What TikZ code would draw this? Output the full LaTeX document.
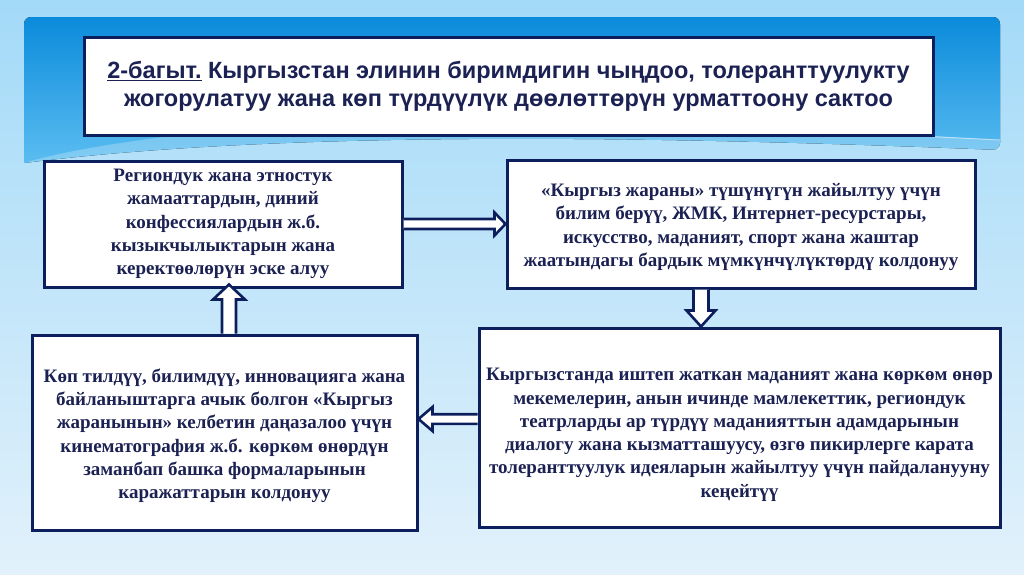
\documentclass[tikz,border=0pt]{standalone}
\usepackage{fontspec}
\setmainfont{Liberation Serif}
\newfontfamily\titlefont{Liberation Sans}
\usetikzlibrary{calc}
\definecolor{navy}{HTML}{0C1F5C}
\definecolor{txt}{HTML}{1B2152}
\definecolor{bgtop}{HTML}{A3DAF8}
\definecolor{bgbot}{HTML}{E2F1FB}
\definecolor{paneltop}{HTML}{0B8BDB}
\definecolor{panelbot}{HTML}{5BBDF1}
\newcommand\blockarrow[5]{%
  \draw[arrowsty] let \p1=($(#2)-(#1)$), \n1={veclen(\x1,\y1)}, \n2={atan2(\y1,\x1)} in
    ($(#1)+(\n2+90:#3)$) -- ($(#1)+(\n2:{\n1-#5})+(\n2+90:#3)$) --
    ($(#1)+(\n2:{\n1-#5})+(\n2+90:#4)$) -- (#2) --
    ($(#1)+(\n2:{\n1-#5})+(\n2-90:#4)$) -- ($(#1)+(\n2:{\n1-#5})+(\n2-90:#3)$) --
    ($(#1)+(\n2-90:#3)$);}
\begin{document}
\begin{tikzpicture}[x=1pt,y=1pt,
  box/.style={draw=navy, line width=3pt, fill=white, inner sep=0pt, align=center,
    text=txt, font=\bfseries\fontsize{19}{23.3}\selectfont},
  arrowsty/.style={draw=navy, fill=white, line width=2.6pt, line join=miter}]
\fill[top color=bgtop, bottom color=bgbot] (0,0) rectangle (1024,-574);
\useasboundingbox (0,0) rectangle (1024,-574);
% top panel
\fill[top color=paneltop, bottom color=panelbot, rounded corners=7]
  (24,-163) -- (24,-17) -- (1000,-17) -- (1000,-150) [sharp corners]
  .. controls (700,-138) and (300,-128) .. (24,-163) -- cycle;
\fill[white, opacity=0.25]
  (24,-163) .. controls (300,-128) and (700,-138) .. (1000,-150) -- (1000,-140)
  .. controls (750,-125) and (450,-112) .. (180,-135) .. controls (120,-142) and (60,-152) .. (24,-163) -- cycle;
\draw[white, opacity=0.5, line width=1pt] (300,-128) .. controls (550,-118) and (800,-130) .. (1000,-140);
% title
\node[box, minimum width=849, minimum height=98, font=\titlefont\bfseries\fontsize{23.5}{28}\selectfont]
  (title) at (508.5,-86)
  {\underline{2-багыт.} Кыргызстан элинин биримдигин чыңдоо, толеранттуулукту\\
   жогорулатуу жана көп түрдүүлүк дөөлөттөрүн урматтоону сактоо};
% boxes
\node[box, minimum width=358, minimum height=126] (b1) at (223,-224)
  {Региондук жана этностук\\ жамааттардын, диний\\ конфессиялардын ж.б.\\ кызыкчылыктарын жана\\ керектөөлөрүн эске алуу};
\node[box, minimum width=468, minimum height=128] (b2) at (741,-224)
  {\rule{0pt}{19pt}«Кыргыз жараны» түшүнүгүн жайылтуу үчүн\\ билим берүү, ЖМК, Интернет-ресурстары,\\ искусство, маданият, спорт жана жаштар\\ жаатындагы бардык мүмкүнчүлүктөрдү колдонуу};
\node[box, minimum width=385, minimum height=195] (b3) at (224.5,-432.5)
  {\rule{0pt}{20pt}Көп тилдүү, билимдүү, инновацияга жана\\ байланыштарга ачык болгон «Кыргыз\\ жаранынын» келбетин даңазалоо үчүн\\ кинематография ж.б. көркөм өнөрдүн\\ заманбап башка формаларынын\\ каражаттарын колдонуу};
\node[box, minimum width=521, minimum height=199] (b4) at (739.5,-427.5)
  {\rule{0pt}{27pt}Кыргызстанда иштеп жаткан маданият жана көркөм өнөр\\ мекемелерин, анын ичинде мамлекеттик, региондук\\ театрларды ар түрдүү маданияттын адамдарынын\\ диалогу жана кызматташуусу, өзгө пикирлерге карата\\ толеранттуулук идеяларын жайылтуу үчүн пайдаланууну\\ кеңейтүү};
% arrows
\coordinate (r1) at (b1.east);
\coordinate (r2) at (b2.west |- r1);
\blockarrow{r1}{r2}{5}{11.5}{11}
\coordinate (d1) at ($(b2.south)+(-40,0)$);
\coordinate (d2) at (d1 |- b4.north);
\blockarrow{d1}{d2}{7.5}{14.5}{16}
\coordinate (l1) at ($(b4.west)+(0,8.5)$);
\coordinate (l2) at (b3.east |- l1);
\blockarrow{l1}{l2}{4.8}{12}{14}
\coordinate (u1) at ($(b3.north)+(4.5,0)$);
\coordinate (u2) at ($(u1 |- b1.south)+(0,4)$);
\blockarrow{u1}{u2}{7}{16}{15}
\end{tikzpicture}
\end{document}
